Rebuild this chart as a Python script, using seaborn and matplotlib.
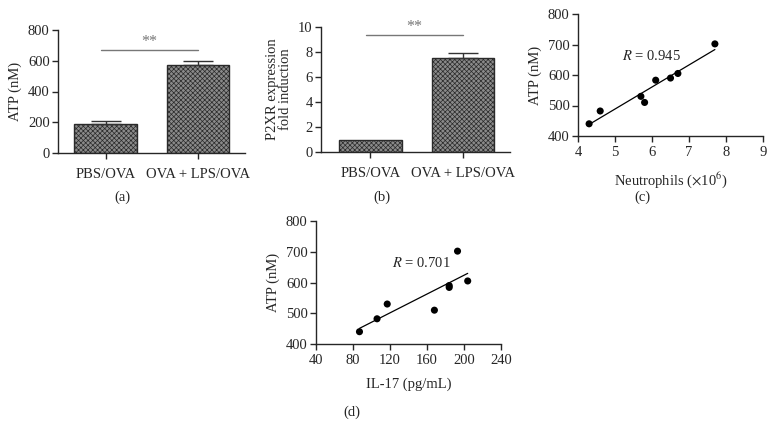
import numpy as np
import pandas as pd
import seaborn as sns
import matplotlib.pyplot as plt

# ---------------- data ----------------
groups = ["PBS/OVA", "OVA + LPS/OVA"]
atp_mean = [190, 575]
atp_err = [20, 25]
p2xr_mean = [1.0, 7.5]
p2xr_err = [0.0, 0.4]

neutrophils = [4.3, 4.6, 5.7, 5.8, 6.1, 6.5, 6.7, 7.7]
atp_c = [440, 482, 530, 510, 583, 590, 605, 702]

il17 = [87, 106, 117, 168, 184, 184, 193, 204]
atp_d = [440, 482, 530, 510, 590, 584, 702, 605]

# ---------------- style ----------------
sns.set_style("ticks")
plt.rcParams["font.family"] = ["Liberation Serif", "DejaVu Serif"]
plt.rcParams["mathtext.fontset"] = "stix"
plt.rcParams["font.size"] = 10.5
plt.rcParams["axes.linewidth"] = 1.0
plt.rcParams["hatch.linewidth"] = 0.5
FS = 10.5

W, H = 774, 430
fig = plt.figure(figsize=(W / 100, H / 100), dpi=100)


def add_ax(left, right, top, bottom):
    return fig.add_axes([left / W, 1 - bottom / H, (right - left) / W, (bottom - top) / H])


def bar_panel(ax, means, errs, ylim, yticks, ylabel, sig_y, xlim):
    df = pd.DataFrame({"group": groups, "value": means})
    sns.barplot(data=df, x="group", y="value", ax=ax, width=0.68,
                color="#8a8a8a", edgecolor="#2a2a2a", linewidth=1.0, errorbar=None)
    for p in ax.patches:
        p.set_hatch("xxxxxxx")
    for i, (m, e) in enumerate(zip(means, errs)):
        if e > 0:
            ax.errorbar(i, m, yerr=[[0], [e]], fmt="none", ecolor="#333333",
                        elinewidth=1.0, capsize=11, capthick=1.0)
    ax.set_ylim(*ylim)
    ax.set_xlim(*xlim)
    ax.set_yticks(yticks)
    ax.set_xlabel("")
    ax.set_ylabel(ylabel, fontsize=FS)
    ax.plot([-0.05, 1.0], [sig_y, sig_y], color="#777777", lw=1.0, clip_on=False)
    ax.text(0.47, sig_y, "**", ha="center", va="bottom", color="#777777", fontsize=FS + 1)
    sns.despine(ax=ax)
    ax.tick_params(direction="out", length=4, width=1.0, labelsize=FS, pad=2)
    ax.tick_params(axis="x", pad=7)


# (a)
ax_a = add_ax(58, 245, 30, 153)
bar_panel(ax_a, atp_mean, atp_err, (0, 800), [0, 200, 400, 600, 800],
          "ATP (nM)", 670, (-0.514, 1.508))

# (b)
ax_b = add_ax(321, 510, 27, 152)
bar_panel(ax_b, p2xr_mean, p2xr_err, (0, 10), [0, 2, 4, 6, 8, 10],
          "P2XR expression\nfold induction", 9.35, (-0.535, 1.508))
ax_b.yaxis.label.set_linespacing(1.0)


def scatter_panel(ax, x, y, xlim, xticks, xlabel, rtext, rpos):
    sns.regplot(x=np.array(x), y=np.array(y), ax=ax, ci=None, truncate=True,
                scatter_kws={"s": 26, "color": "black", "edgecolor": "none", "alpha": 1},
                line_kws={"color": "black", "lw": 0.9})
    ax.set_xlim(*xlim)
    ax.set_ylim(400, 800)
    ax.set_xticks(xticks)
    ax.set_yticks([400, 500, 600, 700, 800])
    ax.set_xlabel(xlabel, fontsize=FS, labelpad=8)
    ax.set_ylabel("ATP (nM)", fontsize=FS)
    ax.text(rpos[0], rpos[1], rtext, ha="left", va="center", fontsize=FS)
    sns.despine(ax=ax)
    ax.tick_params(direction="out", length=4, width=1.0, labelsize=FS, pad=2)
    ax.tick_params(axis="x", pad=3)


# (c)
ax_c = add_ax(578, 763, 14, 136)
scatter_panel(ax_c, neutrophils, atp_c, (4, 9), [4, 5, 6, 7, 8, 9],
              r"Neutrophils ($\times$10$^6$)", r"$R$ = 0.945", (5.2, 662))

# (d)
ax_d = add_ax(316, 501, 221, 344)
scatter_panel(ax_d, il17, atp_d, (40, 240), [40, 80, 120, 160, 200, 240],
              "IL-17 (pg/mL)", r"$R$ = 0.701", (122, 662))

# panel letters
for lab, px, py in [("(a)", 122, 197), ("(b)", 382, 197), ("(c)", 642, 197), ("(d)", 352, 412)]:
    fig.text(px / W, 1 - py / H, lab, ha="center", va="center", fontsize=FS)

fig.savefig("out.png", dpi=100)
